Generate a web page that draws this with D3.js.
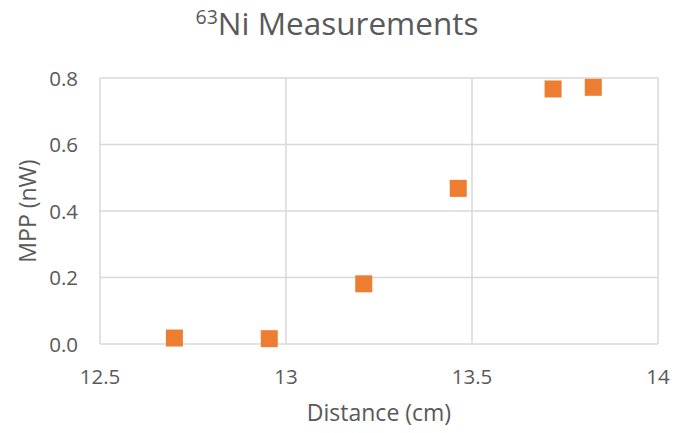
<!DOCTYPE html>
<html>
<head>
<meta charset="utf-8">
<script src="https://cdn.jsdelivr.net/npm/d3@7"></script>
<style>
  body { margin: 0; background: #fff; }
  text { font-family: "Open Sans", sans-serif; fill: #595959; }
</style>
</head>
<body>
<div id="chart"></div>
<script>
const distances = [12.70, 12.955, 13.209, 13.463, 13.718, 13.826];
const mppValues = [0.018, 0.016, 0.181, 0.468, 0.767, 0.772];
const xTicks = [12.5, 13, 13.5, 14];
const yTicks = [0, 0.2, 0.4, 0.6, 0.8];

const width = 675, height = 433;
const margin = { top: 78, right: 17, bottom: 89, left: 100 };

const svg = d3.select('#chart').append('svg')
  .attr('width', width)
  .attr('height', height);

const x = d3.scaleLinear()
  .domain([12.5, 14])
  .range([margin.left, width - margin.right]);

const y = d3.scaleLinear()
  .domain([0, 0.8])
  .range([height - margin.bottom, margin.top]);

// gridlines
svg.append('g')
  .selectAll('line')
  .data(yTicks)
  .join('line')
  .attr('x1', x(12.5))
  .attr('x2', x(14))
  .attr('y1', d => y(d))
  .attr('y2', d => y(d))
  .attr('stroke', '#d9d9d9')
  .attr('stroke-width', 1.5);

svg.append('g')
  .selectAll('line')
  .data(xTicks)
  .join('line')
  .attr('x1', d => x(d))
  .attr('x2', d => x(d))
  .attr('y1', y(0))
  .attr('y2', y(0.8))
  .attr('stroke', '#d9d9d9')
  .attr('stroke-width', 1.5);

// tick labels
svg.append('g')
  .selectAll('text')
  .data(yTicks)
  .join('text')
  .attr('x', 78)
  .attr('y', d => y(d) + 7.5)
  .attr('text-anchor', 'end')
  .style('font-size', '20.5px')
  .text(d => d3.format('.1f')(d));

svg.append('g')
  .selectAll('text')
  .data(xTicks)
  .join('text')
  .attr('x', d => x(d))
  .attr('y', 383.5)
  .attr('text-anchor', 'middle')
  .style('font-size', '20.5px')
  .text(d => d);

// axis titles
svg.append('text')
  .attr('x', (x(12.5) + x(14)) / 2)
  .attr('y', 421)
  .attr('text-anchor', 'middle')
  .style('font-size', '23px')
  .text('Distance (cm)');

svg.append('text')
  .attr('transform', `translate(36, ${(y(0) + y(0.8)) / 2}) rotate(-90)`)
  .attr('text-anchor', 'middle')
  .style('font-size', '23px')
  .text('MPP (nW)');

// title
const title = svg.append('text')
  .attr('x', 337)
  .attr('y', 35)
  .attr('text-anchor', 'middle')
  .style('font-size', '31.5px');
title.append('tspan')
  .attr('dy', '-11.5')
  .style('font-size', '19.5px')
  .text('63');
title.append('tspan')
  .attr('dy', '11.5')
  .text('Ni Measurements');

// markers
const size = 17;
svg.append('g')
  .selectAll('rect')
  .data(distances)
  .join('rect')
  .attr('x', d => x(d) - size / 2)
  .attr('y', (d, i) => y(mppValues[i]) - size / 2)
  .attr('width', size)
  .attr('height', size)
  .attr('fill', '#ed7d31');
</script>
</body>
</html>
